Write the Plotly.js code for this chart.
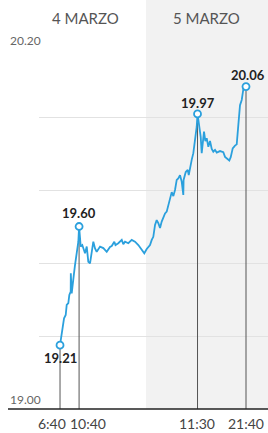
<!DOCTYPE html>
<html>
<head>
<meta charset="utf-8">
<script src="https://cdn.plot.ly/plotly-3.0.1.min.js"></script>
<style>
html,body{margin:0;padding:0;background:#fff;}
#chart{width:268px;height:433px;}
</style>
</head>
<body>
<div id="chart"></div>
<script>
// Hours counted from 4 March 00:00
var hours = [6.667,7.15,7.51,7.86,8.07,8.41,8.62,8.91,8.93,9.12,9.33,9.60,9.81,10.17,10.51,10.667,
  11.01,11.34,11.55,11.91,12.27,12.60,12.96,13.32,13.65,14.01,14.36,15.06,15.75,16.46,17.15,17.51,
  18.05,18.30,18.89,19.61,19.94,20.30,20.99,21.70,22.39,23.09,23.80,24.34,24.85,25.54,25.90,26.23,
  26.59,26.94,27.28,27.64,27.99,28.33,28.69,29.04,29.38,29.73,30.09,30.43,30.78,31.14,31.47,31.83,
  32.19,32.52,32.58,33.03,33.45,33.66,33.93,34.28,34.62,34.98,35.33,35.5,35.88,36.17,36.38,36.59,
  36.86,37.14,37.43,37.77,38.12,38.48,38.81,39.17,39.53,40.22,40.91,41.27,41.62,42.17,42.46,42.88,
  43.36,43.72,44.06,44.41,44.77,44.98,45.14,45.46,45.667];
var price = [19.21,19.265,19.298,19.309,19.342,19.348,19.375,19.386,19.446,19.380,19.418,19.446,19.473,19.506,19.550,19.60,
  19.534,19.539,19.528,19.512,19.534,19.484,19.479,19.517,19.550,19.528,19.517,19.534,19.529,19.517,19.533,19.536,
  19.550,19.539,19.545,19.556,19.542,19.550,19.545,19.556,19.550,19.539,19.523,19.512,19.526,19.539,19.556,19.566,
  19.605,19.621,19.611,19.595,19.616,19.628,19.643,19.649,19.671,19.687,19.713,19.700,19.720,19.753,19.758,19.769,
  19.747,19.704,19.753,19.779,19.786,19.769,19.797,19.819,19.841,19.884,19.928,19.97,19.917,19.895,19.841,19.884,
  19.912,19.881,19.890,19.862,19.881,19.855,19.846,19.852,19.843,19.848,19.844,19.829,19.825,19.817,19.828,19.857,
  19.866,19.870,19.934,19.999,20.016,20.042,20.055,20.052,20.06];

var keyHours = [6.667, 10.667, 35.5, 45.667];
var keyPrices = [19.21, 19.60, 19.97, 20.06];
var keyTimeLabels = ["6:40", "10:40", "11:30", "21:40"];
var dayLabels = ["4 MARZO", "5 MARZO"];
var yEndLabels = ["20.20", "19.00"];

var blue = '#2ba0dd';
var FONT = 'Lato, "Open Sans", sans-serif';

var traces = [
  {x: hours, y: price, type: 'scatter', mode: 'lines',
   line: {color: blue, width: 1.8}, hoverinfo: 'skip', cliponaxis: false},
  {x: keyHours, y: keyPrices, type: 'scatter', mode: 'markers',
   marker: {symbol: 'circle', size: 7, color: '#fff', line: {color: blue, width: 1.8}},
   hoverinfo: 'skip', cliponaxis: false}
];

var shapes = [
  {type: 'rect', xref: 'paper', yref: 'paper', x0: 0.467, x1: 1.01, y0: 0, y1: 1.13,
   fillcolor: '#f2f2f2', line: {width: 0}, layer: 'below'},
  {type: 'line', xref: 'paper', yref: 'paper', x0: -0.1354, x1: 1.01, y0: 0, y1: 0,
   line: {color: '#222', width: 1.6}, layer: 'above'}
];
keyHours.forEach(function(h, i) {
  shapes.push({type: 'line', xref: 'x', yref: 'y', x0: h, x1: h, y0: keyPrices[i] - 0.012, y1: 19.0,
    line: {color: '#555', width: 1}, layer: 'between'});
});

var annotations = [];
var labelShift = [-13, 14, 11, 12];
keyHours.forEach(function(h, i) {
  annotations.push({x: h, y: keyPrices[i], xref: 'x', yref: 'y', text: keyPrices[i].toFixed(2),
    showarrow: false, xanchor: 'center', yanchor: 'middle', yshift: labelShift[i],
    xshift: i === 3 ? 2 : 0,
    font: {family: FONT, size: 13, color: '#222', weight: 'bold'}});
});
var tickShift = [-8, 9, -1, 0];
keyHours.forEach(function(h, i) {
  annotations.push({x: h, y: 0, xref: 'x', yref: 'paper', text: keyTimeLabels[i],
    showarrow: false, xanchor: 'center', yanchor: 'middle', yshift: -14, xshift: tickShift[i],
    font: {family: FONT, size: 14, color: '#444'}});
});
annotations.push({x: 0.2009, y: 1.0712, xref: 'paper', yref: 'paper', text: dayLabels[0],
  showarrow: false, xanchor: 'center', yanchor: 'middle',
  font: {family: FONT, size: 15, color: '#555'}});
annotations.push({x: 0.7336, y: 1.0712, xref: 'paper', yref: 'paper', text: dayLabels[1],
  showarrow: false, xanchor: 'center', yanchor: 'middle',
  font: {family: FONT, size: 15, color: '#555'}});
annotations.push({x: -0.1354, y: 1, xref: 'paper', yref: 'paper', text: yEndLabels[0],
  showarrow: false, xanchor: 'left', yanchor: 'middle', yshift: 4,
  font: {family: FONT, size: 12, color: '#666'}});
annotations.push({x: -0.1354, y: 0, xref: 'paper', yref: 'paper', text: yEndLabels[1],
  showarrow: false, xanchor: 'left', yanchor: 'middle', yshift: 10,
  font: {family: FONT, size: 12, color: '#666'}});

var layout = {
  width: 268, height: 433,
  margin: {l: 39, r: 0, t: 44, b: 24, pad: 0},
  paper_bgcolor: 'rgba(0,0,0,0)', plot_bgcolor: 'rgba(0,0,0,0)',
  showlegend: false,
  xaxis: {range: [2.26, 50.28], showgrid: false, zeroline: false, showticklabels: false,
          ticks: '', showline: false, fixedrange: true},
  yaxis: {range: [19.0, 20.2], tick0: 19.0, dtick: 0.24, showgrid: true, gridcolor: '#e2e2e2',
          gridwidth: 1, zeroline: false, showticklabels: false, ticks: '', showline: false, fixedrange: true},
  shapes: shapes,
  annotations: annotations,
  font: {family: FONT}
};

Plotly.newPlot('chart', traces, layout, {displayModeBar: false, staticPlot: true});
</script>
</body>
</html>
